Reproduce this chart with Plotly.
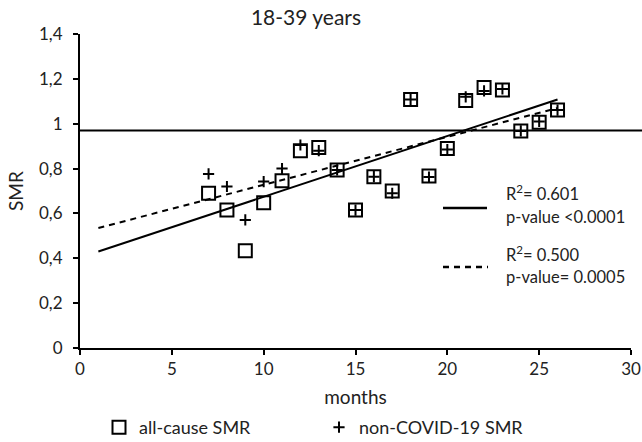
import plotly.graph_objects as go

months = [7, 8, 9, 10, 11, 12, 13, 14, 15, 16, 17, 18, 19, 20, 21, 22, 23, 24, 25, 26]
all_cause_smr = [0.69, 0.615, 0.434, 0.648, 0.746, 0.88, 0.894, 0.794, 0.615, 0.764,
                 0.70, 1.108, 0.767, 0.89, 1.103, 1.162, 1.15, 0.968, 1.007, 1.061]
non_covid_smr = [0.776, 0.72, 0.571, 0.742, 0.80, 0.905, 0.88, 0.794, 0.615, 0.764,
                 0.69, 1.108, 0.762, 0.885, 1.12, 1.146, 1.155, 0.968, 1.01, 1.061]

trend_x = [1, 26]
all_cause_trend = [0.43, 1.108]
non_covid_trend = [0.535, 1.07]

reference_smr = 0.97

x_ticks = [0, 5, 10, 15, 20, 25, 30]
y_ticks = [0, 0.2, 0.4, 0.6, 0.8, 1.0, 1.2, 1.4]

FONT = "Lato, Carlito, Calibri, sans-serif"

fig = go.Figure()

fig.add_trace(go.Scatter(
    x=trend_x, y=all_cause_trend, mode="lines",
    line=dict(color="black", width=2), showlegend=False, hoverinfo="skip"))
fig.add_trace(go.Scatter(
    x=trend_x, y=non_covid_trend, mode="lines",
    line=dict(color="black", width=2, dash="6px,5px"), showlegend=False, hoverinfo="skip"))

fig.add_trace(go.Scatter(
    x=months, y=all_cause_smr, mode="markers", name="all-cause SMR",
    marker=dict(symbol="square-open", size=13, color="black", line=dict(width=2, color="black"))))
fig.add_trace(go.Scatter(
    x=months, y=non_covid_smr, mode="markers", name="non-COVID-19 SMR",
    marker=dict(symbol="cross-thin-open", size=8, color="black", line=dict(width=2, color="black"))))

fig.add_shape(type="line", xref="paper", yref="y", x0=0, x1=1.03,
              y0=reference_smr, y1=reference_smr, line=dict(color="black", width=2))

# regression legend samples
fig.add_shape(type="line", xref="paper", yref="paper",
              x0=(443 - 80) / 551, x1=(487 - 80) / 551,
              y0=(348 - 208) / 314, y1=(348 - 208) / 314,
              line=dict(color="black", width=2.5))
fig.add_shape(type="line", xref="paper", yref="paper",
              x0=(443 - 80) / 551, x1=(488 - 80) / 551,
              y0=(348 - 267) / 314, y1=(348 - 267) / 314,
              line=dict(color="black", width=2.5, dash="6px,5px"))

ann_font = dict(family=FONT, size=16.5, color="#222")
for text, ypix in [("R<sup>2</sup>= 0.601", 193), ("p-value <0.0001", 217),
                   ("R<sup>2</sup>= 0.500", 254), ("p-value= 0.0005", 277)]:
    fig.add_annotation(xref="paper", yref="paper", x=(504 - 80) / 551, y=(348 - ypix) / 314,
                       xanchor="left", yanchor="middle", text=text, showarrow=False, font=ann_font)

fig.update_layout(
    width=642, height=442,
    margin=dict(l=80, r=11, t=34, b=94, autoexpand=False),
    paper_bgcolor="white", plot_bgcolor="white",
    separators=",.",
    font=dict(family=FONT, size=16, color="#222"),
    title=dict(text="18-39 years", x=306 / 642, xanchor="center", xref="container",
               y=1 - 18 / 442, yanchor="middle", yref="container",
               font=dict(family=FONT, size=21, color="#222")),
    xaxis=dict(range=[0, 30], tickvals=x_ticks, showgrid=False, zeroline=False,
               showline=True, linecolor="black", linewidth=2, automargin=False,
               ticks="outside", ticklen=5, tickwidth=1.5, tickcolor="black",
               tickfont=dict(family=FONT, size=17, color="#222"),
               title=dict(text="months", font=dict(family=FONT, size=19, color="#222"), standoff=12)),
    yaxis=dict(range=[0, 1.4], tickvals=y_ticks, showgrid=False, zeroline=False,
               showline=True, linecolor="black", linewidth=2, automargin=False,
               ticks="outside", ticklen=5, tickwidth=1.5, tickcolor="black",
               ticklabelstandoff=7,
               tickfont=dict(family=FONT, size=17, color="#222"),
               title=dict(text="SMR", font=dict(family=FONT, size=19, color="#222"), standoff=10)),
    legend=dict(orientation="h", xref="container", yref="container",
                x=99 / 642, xanchor="left", y=1 - 409 / 442, yanchor="top",
                font=dict(family=FONT, size=18, color="#222"),
                entrywidth=175, entrywidthmode="pixels", itemwidth=30,
                bgcolor="rgba(0,0,0,0)"),
)

fig.write_html("out.html", config={"displayModeBar": False},
               post_script=["document.body.style.margin='0px';"])
